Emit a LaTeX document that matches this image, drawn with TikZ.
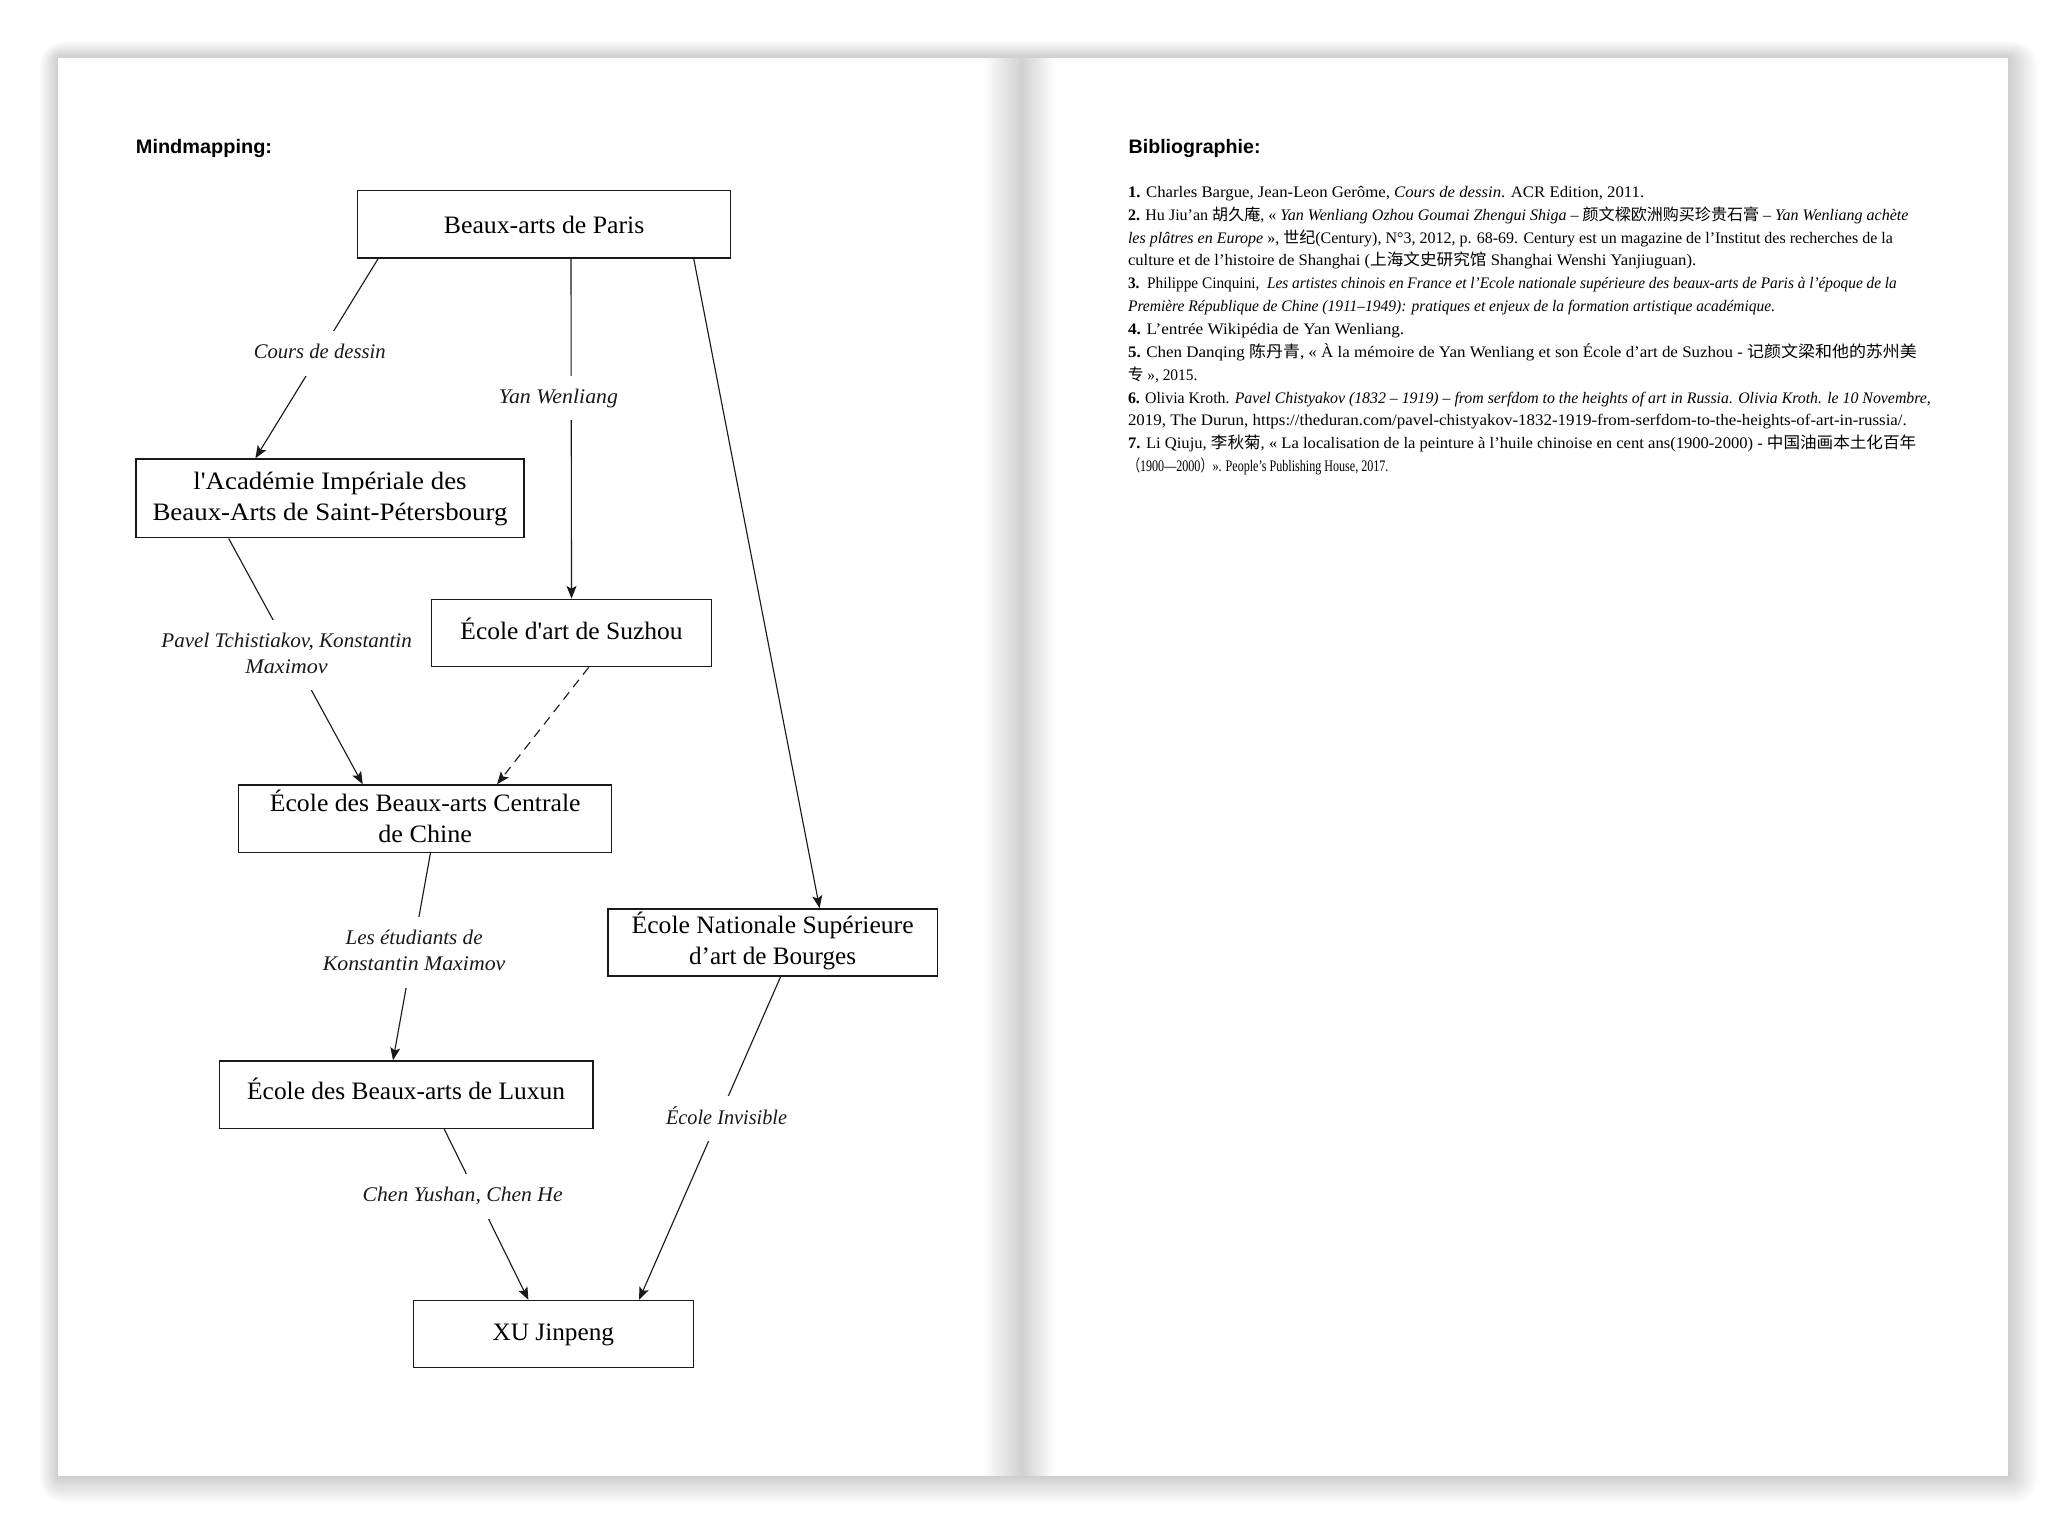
\documentclass[tikz,border=0pt]{standalone}
\usepackage{fontspec}
\setmainfont{Liberation Serif}[Ligatures=TeXOff]
\newfontfamily\cjk{Noto Sans CJK SC}
\newfontfamily\headfont{Liberation Sans}
\usepackage{graphicx}
\usetikzlibrary{arrows.meta}
\newsavebox\fitbox
\newlength\fitlen
\newcommand\fitw[2]{\sbox\fitbox{#2}\setlength\fitlen{\wd\fitbox}\pgfmathsetmacro\fitr{(#1)/\fitlen}\scalebox{\fitr}[1]{\usebox\fitbox}}
\newcommand\mmtop[3]{\rule{0pt}{#1}\smash{\fitw{#2}{#3}}}
\newcommand\mmbot[3]{\rule[-#1]{0pt}{#1}\smash{\fitw{#2}{#3}}}
\tikzset{
  box/.style={draw=black!90, line width=1.1pt, inner sep=0pt, font=\fontsize{19}{23.4}\selectfont},
  one/.style={text depth=2pt},
  two/.style={align=center},
  lab/.style={fill=white, inner xsep=3pt, inner ysep=10pt, font=\fontsize{15.8}{19.5}\selectfont\itshape},
  labone/.style={text height=11pt, text depth=3pt},
  conn/.style={line width=0.85pt, black!90, -{Stealth[length=9.5pt,width=7.5pt,inset=2pt]}},
  head/.style={anchor=base west, inner sep=0pt, font=\headfont\bfseries\fontsize{14.8}{17}\selectfont},
  bib/.style={anchor=base west, inner sep=0pt, font=\fontsize{12.2}{14}\selectfont}
}
\begin{document}
\begin{tikzpicture}[x=1pt, y=-1pt]
\useasboundingbox (0,0) rectangle (1568,1164.4);
\fill[white] (0,0) rectangle (1568,1164.4);
% page shadow
\foreach \i [evaluate=\i as \r using 1.2*\i] in {1,...,16}{
  \fill[black, opacity=0.013, rounded corners=\r pt] ({44.3-0.9*\i},{44.2-0.8*\i}) rectangle ({1523.4+1.4*\i},{1119.4+1.3*\i});
}
\fill[white] (44.3,44.2) rectangle (1523.4,1119.4);
% fold
\shade[left color=white, right color=black!18] (745,44.2) rectangle (775,1119.4);
\shade[left color=black!18, right color=white] (775,44.2) rectangle (800,1119.4);

% headers
\node[head] (hmind) at (102.9,116.3) {\fitw{103.3}{Mindmapping:}};
\node[head] (hbib) at (856,116.3) {\fitw{100}{Bibliographie:}};

% boxes
\node[box, one, text height=16.7pt, minimum width=283.1pt, minimum height=51.1pt] (paris) at (412.75,170.15) {\fitw{152.1}{Beaux-arts de Paris}};
\node[box, two, minimum width=294.3pt, minimum height=59.7pt] (acad) at (250.35,378.05) {\mmtop{11.7pt}{207.3}{l'Académie Impériale des}\\\mmbot{2pt}{269.3}{Beaux-Arts de Saint-Pétersbourg}};
\node[box, one, text height=11.7pt, minimum width=212.1pt, minimum height=51.1pt] (suzhou) at (433.55,480.15) {\fitw{168.6}{École d'art de Suzhou}};
\node[box, two, minimum width=282.9pt, minimum height=51pt] (centrale) at (322.55,621) {\mmtop{14.8pt}{235.7}{École des Beaux-arts Centrale}\\\mmbot{2pt}{71.1}{de Chine}};
\node[box, two, minimum width=250pt, minimum height=50.9pt] (bourges) at (586.1,714.95) {\mmtop{12.5pt}{213.9}{École Nationale Supérieure}\\\mmbot{2pt}{126.7}{d’art de Bourges}};
\node[box, one, text height=10.1pt, minimum width=283.3pt, minimum height=51.1pt] (luxun) at (308.05,830.35) {\fitw{241.1}{École des Beaux-arts de Luxun}};
\node[box, one, text height=11.9pt, minimum width=212.5pt, minimum height=50.9pt] (xu) at (419.75,1012.05) {\fitw{92.1}{XU Jinpeng}};

% connectors
\draw[conn] ([xshift=16.2pt]paris.south west) -- node[lab, labone, pos=0.476] (lcours) {\fitw{100}{Cours de dessin}} ([xshift=91.1pt]acad.north west);
\draw[conn] ([xshift=162.5pt]paris.south west) -- node[lab, labone, pos=0.41, xshift=-9.7pt] (lyan) {\fitw{90.4}{Yan Wenliang}} (suzhou.north);
\draw[conn] ([xshift=255.6pt]paris.south west) -- ([xshift=161.2pt]bourges.north west);
\draw[conn] ([xshift=70.8pt]acad.south west) -- node[lab, align=center, pos=0.4736, xshift=-4.2pt] (lpavel) {\mmtop{11pt}{190}{Pavel Tchistiakov, Konstantin}\\\mmbot{3pt}{62.5}{Maximov}} ([xshift=94.6pt]centrale.north west);
\draw[conn, dash pattern=on 7pt off 5pt] ([xshift=119.6pt]suzhou.south west) -- ([xshift=196.5pt]centrale.north west);
\draw[conn] ([xshift=146pt]centrale.south west) -- node[lab, align=center, pos=0.48, xshift=1.2pt] (letud) {\mmtop{11pt}{104}{Les étudiants de}\\\mmbot{3pt}{138.5}{Konstantin Maximov}} ([xshift=132.3pt]luxun.north west);
\draw[conn] ([xshift=131.6pt]bourges.south west) -- node[lab, labone, pos=0.4395, xshift=6.2pt] (linvis) {\fitw{91.8}{École Invisible}} ([xshift=171.8pt]xu.north west);
\draw[conn] ([xshift=171.1pt]luxun.south west) -- node[lab, labone, pos=0.395, xshift=-11.2pt] (lchen) {\fitw{151.7}{Chen Yushan, Chen He}} ([xshift=87.9pt]xu.north west);

% bibliography
\node[bib] (b1) at (855.5,149.7) {\fitw{391.6}{\textbf{1.} Charles Bargue, Jean-Leon Gerôme, \textit{Cours de dessin}. ACR Edition, 2011.}};
\node[bib] (b2) at (855.5,167.04) {\fitw{592.1}{\textbf{2.} Hu Jiu’an {\cjk 胡久庵}, « \textit{Yan Wenliang Ozhou Goumai Zhengui Shiga} – {\cjk 颜文樑欧洲购买珍贵石膏} – \textit{Yan Wenliang achète}}};
\node[bib] (b3) at (855.5,184.38) {\fitw{580.2}{\textit{les plâtres en Europe} », {\cjk 世纪}(Century), N°3, 2012, p. 68-69. Century est un magazine de l’Institut des recherches de la}};
\node[bib] (b4) at (855.5,201.72) {\fitw{431}{culture et de l’histoire de Shanghai ({\cjk 上海文史研究馆} Shanghai Wenshi Yanjiuguan).}};
\node[bib] (b5) at (855.5,219.06) {\fitw{583.2}{\textbf{3.}\ \ Philippe Cinquini,\ \ \textit{Les artistes chinois en France et l’Ecole nationale supérieure des beaux-arts de Paris à l’époque de la}}};
\node[bib] (b6) at (855.5,236.4) {\fitw{490.9}{\textit{Première République de Chine (1911–1949): pratiques et enjeux de la formation artistique académique.}}};
\node[bib] (b7) at (855.5,253.74) {\fitw{209.5}{\textbf{4.} L’entrée Wikipédia de Yan Wenliang.}};
\node[bib] (b8) at (855.5,271.08) {\fitw{598.4}{\textbf{5.} Chen Danqing {\cjk 陈丹青}, « À la mémoire de Yan Wenliang et son École d’art de Suzhou - {\cjk 记颜文梁和他的苏州美}}};
\node[bib] (b9) at (855.5,288.42) {\fitw{52.7}{{\cjk 专} », 2015.}};
\node[bib] (b10) at (855.5,305.76) {\fitw{609}{\textbf{6.} Olivia Kroth. \textit{Pavel Chistyakov (1832 – 1919) – from serfdom to the heights of art in Russia. Olivia Kroth. le 10 Novembre,}}};
\node[bib] (b11) at (855.5,323.1) {\fitw{590.8}{2019, The Durun, https://theduran.com/pavel-chistyakov-1832-1919-from-serfdom-to-the-heights-of-art-in-russia/.}};
\node[bib] (b12) at (855.5,340.44) {\fitw{597.9}{\textbf{7.} Li Qiuju, {\cjk 李秋菊}, « La localisation de la peinture à l’huile chinoise en cent ans(1900-2000) - {\cjk 中国油画本土化百年}}};
\node[bib] (b13) at (855.5,357.78) {\fitw{197.6}{{\cjk （}1900—2000{\cjk ）}». People’s Publishing House, 2017.}};
\end{tikzpicture}
\end{document}
